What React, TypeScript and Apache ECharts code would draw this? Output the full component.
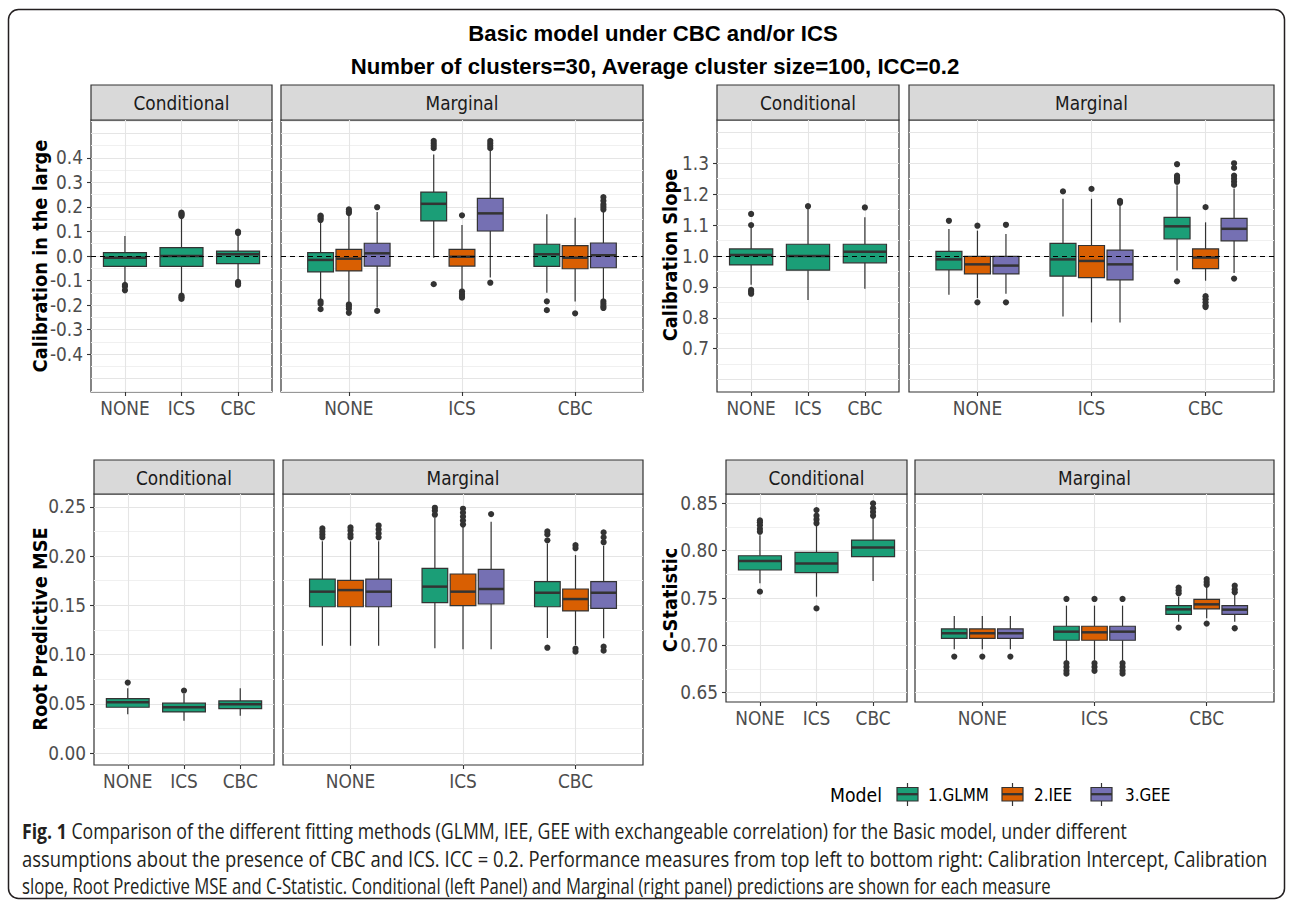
import React, { useEffect, useRef } from "react";
import * as echarts from "echarts";

// ---------------- data ----------------
const categories = ["NONE", "ICS", "CBC"];
const models = ["1.GLMM", "2.IEE", "3.GEE"];
const modelColors = ["#1B9E77", "#D95F02", "#7570B3"];

// box statistics per category: [lower whisker, Q1, median, Q3, upper whisker]
// Calibration in the large
const calLargeCond = [
  [-0.113, -0.042, -0.007, 0.014, 0.082],
  [-0.156, -0.042, 0.0, 0.034, 0.156],
  [-0.1, -0.031, 0.007, 0.02, 0.086],
];
const calLargeCondOut = [
  [-0.118, -0.124, -0.14],
  [0.163, 0.168, 0.172, 0.177, -0.162, -0.168, -0.175],
  [0.094, 0.099, -0.106, -0.112, -0.118],
];
const calLargeMargGLMM = [
  [-0.177, -0.065, -0.016, 0.014, 0.143],
  [-0.007, 0.143, 0.213, 0.261, 0.414],
  [-0.15, -0.042, 0.007, 0.048, 0.17],
];
const calLargeMargGLMMOut = [
  [0.147, 0.153, 0.16, 0.165, -0.185, -0.195, -0.217],
  [0.44, 0.45, 0.46, 0.47, -0.115],
  [-0.185, -0.221],
];
const calLargeMargIEE = [
  [-0.19, -0.061, -0.011, 0.027, 0.17],
  [-0.136, -0.041, -0.003, 0.027, 0.126],
  [-0.186, -0.052, -0.007, 0.042, 0.156],
];
const calLargeMargIEEOut = [
  [0.175, 0.182, 0.19, -0.198, -0.205, -0.215, -0.232],
  [0.166, -0.145, -0.155, -0.163, -0.17],
  [-0.234],
];
const calLargeMargGEE = [
  [-0.21, -0.041, 0.011, 0.052, 0.18],
  [-0.088, 0.102, 0.174, 0.235, 0.428],
  [-0.177, -0.048, 0.003, 0.053, 0.18],
];
const calLargeMargGEEOut = [
  [0.199, -0.224],
  [0.44, 0.45, 0.46, 0.47, -0.109],
  [0.19, 0.2, 0.21, 0.225, 0.24, -0.185, -0.195, -0.205, -0.212],
];
const calLargeTicks = [-0.4, -0.3, -0.2, -0.1, 0, 0.1, 0.2, 0.3, 0.4];

// Calibration slope
const calSlopeCond = [
  [0.907, 0.971, 1.003, 1.023, 1.093],
  [0.858, 0.954, 1.0, 1.038, 1.153],
  [0.894, 0.978, 1.014, 1.038, 1.125],
];
const calSlopeCondOut = [[1.1, 1.136, 0.89, 0.884, 0.878], [1.161], [1.157]];
const calSlopeMargGLMM = [
  [0.875, 0.955, 0.989, 1.015, 1.087],
  [0.804, 0.935, 0.989, 1.041, 1.185],
  [0.953, 1.055, 1.096, 1.125, 1.229],
];
const calSlopeMargGLMMOut = [[1.114], [1.209], [1.24, 1.245, 1.25, 1.255, 1.26, 1.297, 0.918]];
const calSlopeMargIEE = [
  [0.864, 0.942, 0.973, 0.999, 1.082],
  [0.785, 0.93, 0.984, 1.034, 1.185],
  [0.92, 0.959, 0.995, 1.023, 1.109],
];
const calSlopeMargIEEOut = [[1.098, 0.85], [1.217], [1.158, 0.87, 0.86, 0.85, 0.84, 0.835]];
const calSlopeMargGEE = [
  [0.878, 0.942, 0.969, 0.999, 1.071],
  [0.785, 0.923, 0.973, 1.019, 1.169],
  [0.945, 1.049, 1.088, 1.122, 1.218],
];
const calSlopeMargGEEOut = [[1.101, 0.85], [1.172, 1.178], [1.23, 1.24, 1.25, 1.26, 1.285, 1.3, 0.927]];
const calSlopeTicks = [0.7, 0.8, 0.9, 1.0, 1.1, 1.2, 1.3];

// Root predictive MSE
const rmseCond = [
  [0.0395, 0.0466, 0.0517, 0.0554, 0.066],
  [0.033, 0.0419, 0.0466, 0.0507, 0.06],
  [0.038, 0.0453, 0.0497, 0.053, 0.066],
];
const rmseCondOut = [[0.0716], [0.0635], []];
const rmseMargGLMM = [
  [0.109, 0.1486, 0.1639, 0.1767, 0.215],
  [0.1064, 0.1527, 0.169, 0.1875, 0.239],
  [0.117, 0.1486, 0.1628, 0.174, 0.2128],
];
const rmseMargGLMMOut = [
  [0.219, 0.222, 0.225, 0.228],
  [0.242, 0.246, 0.249],
  [0.216, 0.222, 0.225, 0.107],
];
const rmseMargIEE = [
  [0.109, 0.1486, 0.1655, 0.1753, 0.215],
  [0.1054, 0.1497, 0.1639, 0.1818, 0.2297],
  [0.1098, 0.1443, 0.1564, 0.1666, 0.201],
];
const rmseMargIEEOut = [
  [0.219, 0.222, 0.226, 0.229],
  [0.232, 0.236, 0.24, 0.244, 0.248],
  [0.208, 0.211, 0.106, 0.103],
];
const rmseMargGEE = [
  [0.109, 0.1486, 0.1639, 0.1767, 0.215],
  [0.1054, 0.1514, 0.1666, 0.1865, 0.2348],
  [0.1166, 0.147, 0.1628, 0.174, 0.2105],
];
const rmseMargGEEOut = [
  [0.219, 0.223, 0.227, 0.231],
  [0.2426],
  [0.214, 0.219, 0.224, 0.108, 0.104],
];
const rmseTicks = [0, 0.05, 0.1, 0.15, 0.2, 0.25];

// C-statistic
const cstatCond = [
  [0.7655, 0.7796, 0.7891, 0.7947, 0.8165],
  [0.7514, 0.7768, 0.7866, 0.7982, 0.827],
  [0.768, 0.7937, 0.8035, 0.8113, 0.835],
];
const cstatCondOut = [
  [0.82, 0.823, 0.827, 0.83, 0.832, 0.7567],
  [0.829, 0.833, 0.837, 0.843, 0.739],
  [0.837, 0.841, 0.845, 0.85],
];
const cstatMargGLMM = [
  [0.6958, 0.7074, 0.7127, 0.7173, 0.731],
  [0.6835, 0.7053, 0.7144, 0.7201, 0.7419],
  [0.725, 0.7327, 0.738, 0.7419, 0.7514],
];
const cstatMargGLMMOut = [[0.688], [0.749, 0.681, 0.677, 0.673, 0.67], [0.755, 0.758, 0.761, 0.7187]];
const cstatMargIEE = [
  [0.6958, 0.7074, 0.7127, 0.7173, 0.731],
  [0.6845, 0.7053, 0.7137, 0.7201, 0.7419],
  [0.7285, 0.7384, 0.7433, 0.7486, 0.762],
];
const cstatMargIEEOut = [[0.688], [0.749, 0.681, 0.677, 0.673], [0.764, 0.767, 0.77, 0.7229]];
const cstatMargGEE = [
  [0.6958, 0.7074, 0.7127, 0.7173, 0.731],
  [0.6835, 0.7053, 0.7144, 0.7201, 0.7419],
  [0.725, 0.7327, 0.7377, 0.7419, 0.7532],
];
const cstatMargGEEOut = [[0.688], [0.749, 0.681, 0.677, 0.673, 0.67], [0.756, 0.759, 0.763, 0.718]];
const cstatTicks = [0.65, 0.7, 0.75, 0.8, 0.85];

const titleLines = ["Basic model under CBC and/or ICS", "Number of clusters=30, Average cluster size=100, ICC=0.2"];
const captionBold = "Fig. 1";
const captionLines = [
  " Comparison of the different fitting methods (GLMM, IEE, GEE with exchangeable correlation) for the Basic model, under different",
  "assumptions about the presence of CBC and ICS. ICC = 0.2. Performance measures from top left to bottom right: Calibration Intercept, Calibration",
  "slope, Root Predictive MSE and C-Statistic. Conditional (left Panel) and Marginal (right panel) predictions are shown for each measure",
];

// ---------------- layout / style ----------------
const TAHOMA = '"DejaVu Sans Condensed", "DejaVu Sans", sans-serif';
const ARIAL = '"Liberation Sans", Arial, sans-serif';
const CAPFONT = '"Open Sans", "Noto Sans", sans-serif';
const DODGE = [-0.25, 0, 0.25];
const MARG_BOX_W = 0.228;
const COND_BOX_W = 0.76;

const measures = [
  {
    title: "Calibration in the large", titleX: 40, titleY: 256,
    cond: { boxes: calLargeCond, out: calLargeCondOut },
    marg: [
      { boxes: calLargeMargGLMM, out: calLargeMargGLMMOut },
      { boxes: calLargeMargIEE, out: calLargeMargIEEOut },
      { boxes: calLargeMargGEE, out: calLargeMargGEEOut },
    ],
    yMin: -0.555, yMax: 0.555, step: 0.005, minor: 0.05, major: 0.1, ticks: calLargeTicks, dec: 1, ref: 0,
    condRect: [91, 120, 181, 272], margRect: [281, 120, 362, 272], stripTop: 85, stripH: 35,
  },
  {
    title: "Calibration Slope", titleX: 670, titleY: 255,
    cond: { boxes: calSlopeCond, out: calSlopeCondOut },
    marg: [
      { boxes: calSlopeMargGLMM, out: calSlopeMargGLMMOut },
      { boxes: calSlopeMargIEE, out: calSlopeMargIEEOut },
      { boxes: calSlopeMargGEE, out: calSlopeMargGEEOut },
    ],
    yMin: 0.56, yMax: 1.44, step: 0.01, minor: 0.05, major: 0.1, ticks: calSlopeTicks, dec: 1, ref: 1,
    condRect: [717, 120, 182, 272], margRect: [909, 120, 365, 272], stripTop: 85, stripH: 35,
  },
  {
    title: "Root Predictive MSE", titleX: 40, titleY: 629,
    cond: { boxes: rmseCond, out: rmseCondOut },
    marg: [
      { boxes: rmseMargGLMM, out: rmseMargGLMMOut },
      { boxes: rmseMargIEE, out: rmseMargIEEOut },
      { boxes: rmseMargGEE, out: rmseMargGEEOut },
    ],
    yMin: -0.012, yMax: 0.263, step: 0.001, minor: 0.025, major: 0.05, ticks: rmseTicks, dec: 2, ref: null,
    condRect: [94, 494, 180, 271], margRect: [283, 494, 360, 271], stripTop: 460, stripH: 34,
  },
  {
    title: "C-Statistic", titleX: 670, titleY: 600,
    cond: { boxes: cstatCond, out: cstatCondOut },
    marg: [
      { boxes: cstatMargGLMM, out: cstatMargGLMMOut },
      { boxes: cstatMargIEE, out: cstatMargIEEOut },
      { boxes: cstatMargGEE, out: cstatMargGEEOut },
    ],
    yMin: 0.64, yMax: 0.86, step: 0.005, minor: 0.025, major: 0.05, ticks: cstatTicks, dec: 2, ref: null,
    condRect: [726, 494, 181, 208], margRect: [915, 494, 359, 208], stripTop: 460, stripH: 34,
  },
];

const GRID_MAJOR = "#E5E5E5";
const GRID_MINOR = "#F0F0F0";
const DARK = "#333333";
const NONE_COLOR = "rgba(0,0,0,0)";

function isMult(v: number, m: number) {
  const r = v / m;
  return Math.abs(r - Math.round(r)) < 1e-6;
}

function gridColors(min: number, step: number, minor: number, major: number) {
  const cycle = Math.round(major / step);
  const out: string[] = [];
  for (let k = 0; k < cycle; k++) {
    const v = min + k * step;
    if (isMult(v, major)) out.push(GRID_MAJOR);
    else if (isMult(v, minor)) out.push(GRID_MINOR);
    else out.push(NONE_COLOR);
  }
  return out;
}

function makeBoxRenderer(color: string, half: number) {
  return (params: any, api: any) => {
    const x = api.value(0);
    const lo = api.coord([x, api.value(1)]);
    const q1 = api.coord([x, api.value(2)]);
    const md = api.coord([x, api.value(3)]);
    const q3 = api.coord([x, api.value(4)]);
    const hi = api.coord([x, api.value(5)]);
    const l = api.coord([x - half, api.value(2)])[0];
    const r = api.coord([x + half, api.value(2)])[0];
    return {
      type: "group",
      children: [
        { type: "line", shape: { x1: hi[0], y1: hi[1], x2: q3[0], y2: q3[1] }, style: { stroke: DARK, lineWidth: 1.2 } },
        { type: "line", shape: { x1: q1[0], y1: q1[1], x2: lo[0], y2: lo[1] }, style: { stroke: DARK, lineWidth: 1.2 } },
        { type: "rect", shape: { x: l, y: q3[1], width: r - l, height: q1[1] - q3[1] }, style: { fill: color, stroke: DARK, lineWidth: 1.2 } },
        { type: "line", shape: { x1: l, y1: md[1], x2: r, y2: md[1] }, style: { stroke: DARK, lineWidth: 2.5 } },
      ],
    };
  };
}

function buildOption() {
  const ctx = document.createElement("canvas").getContext("2d")!;
  const tw = (t: string, size: number, fam: string, w = "normal") => {
    ctx.font = `${w} ${size}px ${fam}`;
    return ctx.measureText(t).width;
  };
  const fit = (t: string, fam: string, target: number, w = "normal") => (20 * target) / tw(t, 20, fam, w);

  const tickSize = fit("Conditional", TAHOMA, 96);
  const axisTitleSize = fit("Calibration in the large", TAHOMA, 233, "bold");
  const legTitleSize = fit("Model", TAHOMA, 52);
  const legTextSize = fit("1.GLMM", TAHOMA, 61);
  const titleSize = fit(titleLines[1], ARIAL, 610, "bold");

  const grids: any[] = [];
  const xAxes: any[] = [];
  const yAxes: any[] = [];
  const series: any[] = [];
  const graphics: any[] = [];

  const xColors = [NONE_COLOR, NONE_COLOR, NONE_COLOR, GRID_MAJOR, NONE_COLOR];

  const addPanel = (m: any, rect: number[], isCond: boolean, stripLabel: string) => {
    const [left, top, width, height] = rect;
    const gi = grids.length;
    grids.push({ left, top, width, height, show: true, borderColor: DARK, borderWidth: 1.2, backgroundColor: "#FFFFFF", z: 0 });
    const xa = xAxes.length;
    xAxes.push({
      type: "value", gridIndex: gi, min: 0.4, max: 3.6, interval: 0.2,
      axisLine: { show: false, onZero: false }, axisTick: { show: false }, axisLabel: { show: false },
      splitLine: { show: true, lineStyle: { color: xColors, width: 1.1 } },
    });
    xAxes.push({
      type: "value", gridIndex: gi, min: 0.4, max: 3.6, position: "bottom",
      axisLine: { show: false, onZero: false },
      axisTick: { show: true, customValues: [1, 2, 3], length: 4, lineStyle: { color: DARK, width: 1.1 } },
      axisLabel: {
        show: true, customValues: [1, 2, 3], margin: 7, color: "#4D4D4D", fontSize: tickSize, fontFamily: TAHOMA,
        formatter: (v: number) => categories[Math.round(v) - 1] || "",
      },
      splitLine: { show: false },
    });
    const ya = yAxes.length;
    yAxes.push({
      type: "value", gridIndex: gi, min: m.yMin, max: m.yMax, interval: m.step,
      axisLine: { show: false, onZero: false }, axisTick: { show: false }, axisLabel: { show: false },
      splitLine: { show: true, lineStyle: { color: gridColors(m.yMin, m.step, m.minor, m.major), width: 1.1 } },
    });
    yAxes.push({
      type: "value", gridIndex: gi, min: m.yMin, max: m.yMax, position: "left",
      axisLine: { show: false, onZero: false },
      axisTick: { show: isCond, customValues: m.ticks, length: 4, lineStyle: { color: DARK, width: 1.1 } },
      axisLabel: {
        show: isCond, customValues: m.ticks, margin: 8, color: "#4D4D4D", fontSize: tickSize, fontFamily: TAHOMA,
        formatter: (v: number) => v.toFixed(m.dec),
      },
      splitLine: { show: false },
    });

    const groups = isCond
      ? [{ ...m.cond, color: modelColors[0], offset: 0, w: COND_BOX_W }]
      : m.marg.map((g: any, i: number) => ({ ...g, color: modelColors[i], offset: DODGE[i], w: MARG_BOX_W }));

    groups.forEach((g: any, gidx: number) => {
      series.push({
        type: "custom", xAxisIndex: xa, yAxisIndex: ya, z: 3, silent: true,
        data: g.boxes.map((b: number[], i: number) => [i + 1 + g.offset, ...b]),
        encode: { x: 0, y: [1, 2, 3, 4, 5] },
        renderItem: makeBoxRenderer(g.color, g.w / 2),
      });
      const sc: any = {
        type: "scatter", xAxisIndex: xa, yAxisIndex: ya, z: 4, silent: true,
        symbol: "circle", symbolSize: 6.2, itemStyle: { color: DARK, opacity: 1 },
        data: g.out.flatMap((arr: number[], i: number) => arr.map((v) => [i + 1 + g.offset, v])),
      };
      if (m.ref !== null && gidx === groups.length - 1) {
        sc.markLine = {
          silent: true, symbol: ["none", "none"], label: { show: false }, z: 6,
          lineStyle: { type: [5, 4], color: "#000000", width: 1.1 },
          data: [{ yAxis: m.ref }],
        };
      }
      series.push(sc);
    });

    // strip
    graphics.push({
      type: "rect", shape: { x: left, y: m.stripTop, width, height: m.stripH },
      style: { fill: "#D9D9D9", stroke: DARK, lineWidth: 1.2 }, silent: true,
    });
    graphics.push({
      type: "text", x: left + width / 2, y: m.stripTop + m.stripH / 2 + 1,
      style: { text: stripLabel, fill: "#1A1A1A", font: `${tickSize}px ${TAHOMA}`, align: "center", verticalAlign: "middle" },
      silent: true,
    });
  };

  measures.forEach((m) => {
    addPanel(m, m.condRect, true, "Conditional");
    addPanel(m, m.margRect, false, "Marginal");
    graphics.push({
      type: "text", x: m.titleX, y: m.titleY, rotation: Math.PI / 2,
      style: { text: m.title, fill: "#000000", font: `bold ${axisTitleSize}px ${TAHOMA}`, align: "center", verticalAlign: "middle" },
      silent: true,
    });
  });

  // main titles
  graphics.push({
    type: "text", x: 653, y: 33,
    style: { text: titleLines[0], fill: "#000", font: `bold ${titleSize}px ${ARIAL}`, align: "center", verticalAlign: "middle" },
  });
  graphics.push({
    type: "text", x: 655, y: 66,
    style: { text: titleLines[1], fill: "#000", font: `bold ${titleSize}px ${ARIAL}`, align: "center", verticalAlign: "middle" },
  });

  // legend
  graphics.push({
    type: "text", x: 830, y: 795,
    style: { text: "Model", fill: "#000", font: `${legTitleSize}px ${TAHOMA}`, align: "left", verticalAlign: "middle" },
  });
  const keyX = [897, 1002, 1091];
  const labX = [928, 1034, 1125];
  models.forEach((name, i) => {
    const x0 = keyX[i];
    const w = 21;
    graphics.push({ type: "line", shape: { x1: x0 + w / 2, y1: 783, x2: x0 + w / 2, y2: 806 }, style: { stroke: DARK, lineWidth: 1.2 } });
    graphics.push({ type: "rect", shape: { x: x0, y: 787.5, width: w, height: 13.5 }, style: { fill: modelColors[i], stroke: DARK, lineWidth: 1.2 } });
    graphics.push({ type: "line", shape: { x1: x0, y1: 794.2, x2: x0 + w, y2: 794.2 }, style: { stroke: DARK, lineWidth: 2.3 } });
    graphics.push({
      type: "text", x: labX[i], y: 795,
      style: { text: name, fill: "#000", font: `${legTextSize}px ${TAHOMA}`, align: "left", verticalAlign: "middle" },
    });
  });

  // caption (condensed look: larger font squeezed horizontally to each line's width)
  const capSize = 21;
  const capTargets = [1105, 1246, 1029];
  const capY = [831, 859, 886];
  captionLines.forEach((line, i) => {
    let natural = tw(line, capSize, CAPFONT);
    if (i === 0) natural += tw(captionBold, capSize, CAPFONT, "bold");
    const sx = capTargets[i] / natural;
    graphics.push({
      type: "text", x: 22, y: capY[i], scaleX: sx, scaleY: 1,
      style: {
        text: i === 0 ? `{b|${captionBold}}${line}` : line,
        fill: "#231F20", font: `${capSize}px ${CAPFONT}`, align: "left", verticalAlign: "middle",
        rich: { b: { fontWeight: "bold", fontSize: capSize, fontFamily: CAPFONT, fill: "#231F20" } },
      },
    });
  });

  // outer frame
  graphics.push({
    type: "rect", shape: { x: 8.5, y: 9.5, width: 1276, height: 889, r: 10 },
    style: { fill: "none", stroke: "#231F20", lineWidth: 1.5 }, silent: true, z: 100,
  });

  return {
    animation: false,
    backgroundColor: "#FFFFFF",
    textStyle: { fontFamily: TAHOMA },
    grid: grids,
    xAxis: xAxes,
    yAxis: yAxes,
    series,
    graphic: { elements: graphics },
  };
}

export default function App() {
  const ref = useRef<HTMLDivElement>(null);
  useEffect(() => {
    if (!ref.current) return;
    const chart = echarts.init(ref.current, undefined, { renderer: "svg" });
    chart.setOption(buildOption() as any);
    return () => chart.dispose();
  }, []);
  return (
    <div
      ref={ref}
      style={{ position: "fixed", left: 0, top: 0, width: 1292, height: 904, background: "#FFFFFF" }}
    />
  );
}
